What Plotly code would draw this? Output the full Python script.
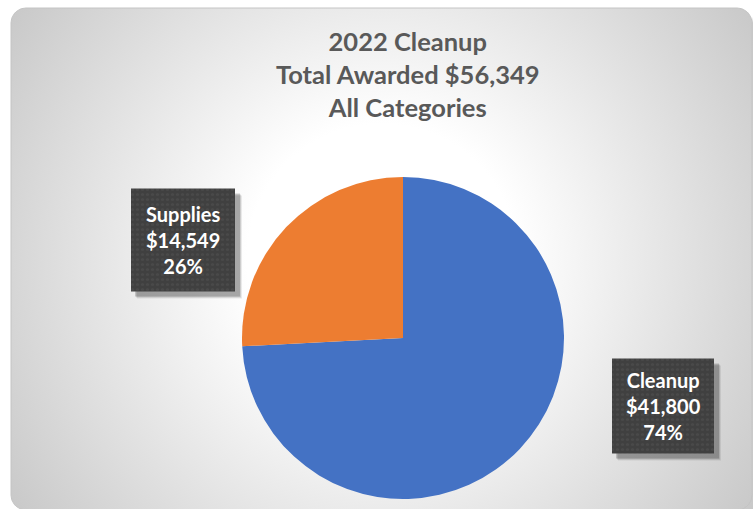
import numpy as np
import plotly.graph_objects as go

# ---- data ----
categories = ["Cleanup", "Supplies"]
amounts = [41800, 14549]
slice_colors = ["#4472C4", "#ED7D31"]
title_lines = ["2022 Cleanup", "Total Awarded ${:,}", "All Categories"]

total = sum(amounts)
pcts = [round(100 * a / total) for a in amounts]

W, H = 753, 509
L, T = 10, 7  # plot area offset (pixels)

fig = go.Figure()

def rounded_rect(x0, y0, x1, y1, r, n=12):
    xs, ys = [], []
    corners = [(x1 - r, y0 + r, -90, 0), (x1 - r, y1 - r, 0, 90),
               (x0 + r, y1 - r, 90, 180), (x0 + r, y0 + r, 180, 270)]
    for cx, cy, a0, a1 in corners:
        for a in np.linspace(np.radians(a0), np.radians(a1), n):
            xs.append(cx + r * np.cos(a))
            ys.append(cy + r * np.sin(a))
    xs.append(xs[0]); ys.append(ys[0])
    return xs, ys

def rect(x0, y0, x1, y1):
    return [x0, x1, x1, x0, x0], [y0, y0, y1, y1, y0]

# background radial gradient (circle clipped to plot area)
cx0, cy0, R = 382, 259, 450
th = np.linspace(0, 2 * np.pi, 200)
fig.add_trace(go.Scatter(
    x=cx0 + R * np.cos(th), y=cy0 + R * np.sin(th), mode="lines",
    line=dict(width=0), fill="toself",
    fillgradient=dict(type="radial",
                      colorscale=[[0, "#ffffff"], [0.3, "#ffffff"], [1, "#c8c8c8"]]),
    hoverinfo="skip", showlegend=False))

# white masks outside rounded corners
bx0, by0, bx1, by1, rr = 11, 8, 752, 510, 15

def corner_mask(cx, cy, a0, a1, cornerx, cornery):
    a = np.radians(np.linspace(a0, a1, 20))
    px = list(cx + rr * np.cos(a))
    py = list(cy + rr * np.sin(a))
    xs = px + [cornerx, px[0]]
    ys = py + [cornery, py[0]]
    return xs, ys

masks = [
    corner_mask(bx0 + rr, by0 + rr, 180, 270, bx0 - 3, by0 - 3),
    corner_mask(bx1 - rr, by0 + rr, 270, 360, bx1 + 3, by0 - 3),
    corner_mask(bx0 + rr, by1 - rr, 90, 180, bx0 - 3, by1 + 3),
]
for mx, my in masks:
    fig.add_trace(go.Scatter(x=mx, y=my, mode="lines", line=dict(width=0),
                             fill="toself", fillcolor="white",
                             hoverinfo="skip", showlegend=False))
for sx, sy in [rect(0, 0, bx0, H + 5), rect(0, 0, W + 5, by0)]:
    fig.add_trace(go.Scatter(x=sx, y=sy, mode="lines", line=dict(width=0),
                             fill="toself", fillcolor="white",
                             hoverinfo="skip", showlegend=False))

# border
ox_, oy_ = rounded_rect(bx0, by0, bx1, by1, rr)
fig.add_trace(go.Scatter(x=ox_, y=oy_, mode="lines",
                         line=dict(color="#c4c4c4", width=1),
                         hoverinfo="skip", showlegend=False))

# label boxes (centers / sizes in pixels)
boxes = {"Cleanup": (663, 406, 102, 95), "Supplies": (183, 240, 104, 103)}
for cat in categories:
    cx, cy, bw, bh = boxes[cat]
    for off, alpha in [(7, 0.08), (6, 0.12), (5, 0.18)]:
        sx, sy = rect(cx - bw / 2 + off - 1, cy - bh / 2 + off,
                      cx + bw / 2 + off, cy + bh / 2 + off)
        fig.add_trace(go.Scatter(x=sx, y=sy, mode="lines", line=dict(width=0),
                                 fill="toself", fillcolor=f"rgba(0,0,0,{alpha})",
                                 hoverinfo="skip", showlegend=False))
    sx, sy = rect(cx - bw / 2, cy - bh / 2, cx + bw / 2, cy + bh / 2)
    fig.add_trace(go.Scatter(
        x=sx, y=sy, mode="lines", line=dict(width=0), fill="toself",
        fillcolor="#404040",
        fillpattern=dict(shape=".", bgcolor="#404040", fgcolor="#525252",
                         size=5, solidity=0.3),
        hoverinfo="skip", showlegend=False))

# pie
pcx, pcy, pr = 403, 338, 161
pw, ph = W - L, H - T
fig.add_trace(go.Pie(
    labels=categories, values=amounts, sort=False, direction="clockwise",
    rotation=0, marker=dict(colors=slice_colors, line=dict(width=0)),
    textinfo="none", hoverinfo="label+value+percent", showlegend=False,
    domain=dict(x=[(pcx - pr - L) / pw, (pcx + pr - L) / pw],
                y=[(H - pcy - pr) / ph, (H - pcy + pr) / ph])))

# label text
for cat, amt, pct in zip(categories, amounts, pcts):
    cx, cy, bw, bh = boxes[cat]
    fig.add_annotation(x=cx, y=cy, xref="x", yref="y", showarrow=False,
                       text=f"<b>{cat}<br>${amt:,}<br>{pct}%</b>",
                       font=dict(family="Lato", size=20, color="white"),
                       align="center")

# title
title_text = "<br>".join([title_lines[0], title_lines[1].format(total), title_lines[2]])
fig.add_annotation(x=408, y=74, xref="x", yref="y", showarrow=False,
                   text=f"<b>{title_text}</b>",
                   font=dict(family="Lato", size=25.5, color="#595959"),
                   align="center")

fig.update_xaxes(range=[L, W], visible=False, fixedrange=True)
fig.update_yaxes(range=[H, T], visible=False, fixedrange=True)
fig.update_layout(width=W, height=H, margin=dict(l=L, t=T, r=0, b=0, pad=0),
                  paper_bgcolor="white", plot_bgcolor="white")

fig.write_html("out.html", config={"displayModeBar": False},
               post_script="document.body.style.margin='0';document.body.style.padding='0';")
